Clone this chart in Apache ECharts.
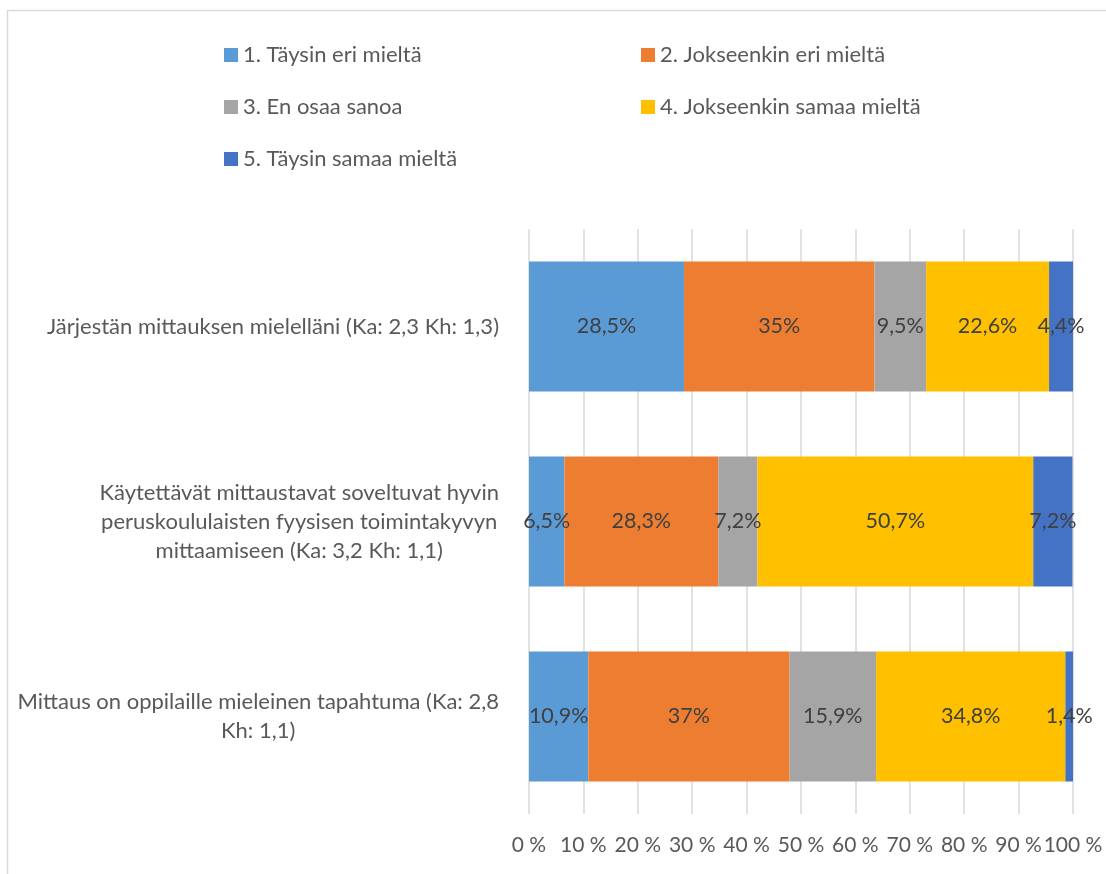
<!DOCTYPE html>
<html>
<head>
<meta charset="utf-8">
<script src="https://cdn.jsdelivr.net/npm/echarts@6/dist/echarts.min.js"></script>
<style>
html,body{margin:0;padding:0;background:#fff;}
#chart{width:1106px;height:874px;}
</style>
</head>
<body>
<div id="chart"></div>
<script>
// Categories (top to bottom)
const categories = [
  'Järjestän mittauksen mielelläni (Ka: 2,3 Kh: 1,3)',
  'Käytettävät mittaustavat soveltuvat hyvin\nperuskoululaisten fyysisen toimintakyvyn\nmittaamiseen (Ka: 3,2 Kh: 1,1)',
  'Mittaus on oppilaille mieleinen tapahtuma (Ka: 2,8\nKh: 1,1)'
];
const seriesNames = [
  '1. Täysin eri mieltä',
  '2. Jokseenkin eri mieltä',
  '3. En osaa sanoa',
  '4. Jokseenkin samaa mieltä',
  '5. Täysin samaa mieltä'
];
const s1 = [28.5, 6.5, 10.9];
const s2 = [35, 28.3, 37];
const s3 = [9.5, 7.2, 15.9];
const s4 = [22.6, 50.7, 34.8];
const s5 = [4.4, 7.2, 1.4];
const xTicks = [0, 10, 20, 30, 40, 50, 60, 70, 80, 90, 100];
const colors = ['#5B9BD5', '#ED7D31', '#A5A5A5', '#FFC000', '#4472C4'];

const FONT = 'Lato';
const allValues = [s1, s2, s3, s4, s5];

const chart = echarts.init(document.getElementById('chart'));
chart.setOption({
  animation: false,
  color: colors,
  textStyle: { fontFamily: FONT },
  graphic: [{
    type: 'rect',
    shape: { x: 7.5, y: 10.5, width: 1200, height: 1000 },
    style: { fill: 'none', stroke: '#D9D9D9', lineWidth: 1.5 },
    silent: true, z: -10
  }],
  legend: [
    {
      data: [seriesNames[0], seriesNames[2], seriesNames[4]],
      orient: 'vertical', left: 219, top: 39,
      itemWidth: 14, itemHeight: 14, itemGap: 30, icon: 'rect',
      textStyle: { fontFamily: FONT, fontSize: 22, color: '#595959', lineHeight: 22 }
    },
    {
      data: [seriesNames[1], seriesNames[3]],
      orient: 'vertical', left: 636, top: 39,
      itemWidth: 14, itemHeight: 14, itemGap: 30, icon: 'rect',
      textStyle: { fontFamily: FONT, fontSize: 22, color: '#595959', lineHeight: 22 }
    }
  ],
  grid: { left: 529, right: 1106 - 1073, top: 229, bottom: 874 - 814, containLabel: false },
  xAxis: {
    type: 'value', min: 0, max: 100, interval: 10,
    axisLine: { show: false }, axisTick: { show: false },
    splitLine: { show: true, lineStyle: { color: '#D9D9D9', width: 1.5 } },
    axisLabel: {
      margin: 21, fontSize: 21, color: '#595959', fontFamily: FONT,
      formatter: v => xTicks.includes(v) ? v + ' %' : ''
    }
  },
  yAxis: {
    type: 'category', data: categories, inverse: true,
    axisLine: { show: false }, axisTick: { show: false },
    axisLabel: {
      margin: 30, fontSize: 22, color: '#595959', fontFamily: FONT, align: 'right',
      formatter: v => v.split('\n').map(l => '{c|' + l + '}').join('\n'),
      rich: { c: { align: 'center', fontSize: 22, color: '#595959', fontFamily: FONT, lineHeight: 29 } }
    }
  },
  series: seriesNames.map((name, i) => ({
    name, type: 'bar', stack: 'total', data: allValues[i],
    barWidth: 130,
    itemStyle: { color: colors[i] },
    label: {
      show: true, position: 'inside', fontSize: 21.5, color: '#404040', fontFamily: FONT,
      formatter: p => String(p.value).replace('.', ',') + '%'
    }
  }))
});
</script>
</body>
</html>
